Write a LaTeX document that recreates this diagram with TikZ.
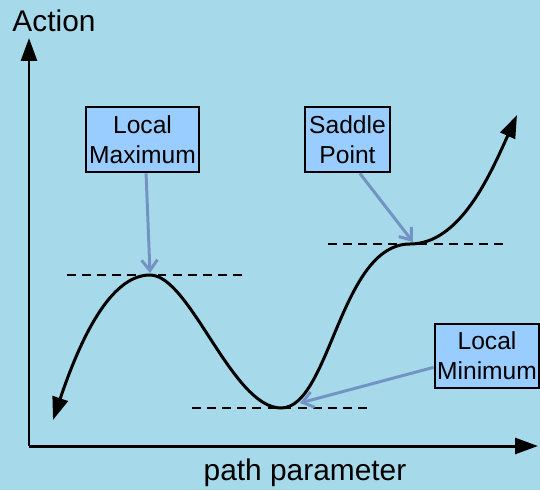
\documentclass[tikz,border=0pt]{standalone}
\usepackage{fontspec}
\setmainfont{Liberation Sans}
\usepackage{xcolor}
\usepackage{tikz}
\usetikzlibrary{arrows.meta}
\definecolor{sfondo}{HTML}{A6D9E9}
\definecolor{azzurro}{HTML}{99CCFF}
\definecolor{puntatore}{HTML}{7393C4}

\begin{document}
\begin{tikzpicture}[x=0.02cm, y=-0.02cm,
        box/.style={draw=black, line width=1.6pt, fill=azzurro, align=center,
            inner sep=0pt, font=\fontsize{14}{17}\selectfont},
        freccia/.style={draw=puntatore, line width=1.7pt,
            -{Straight Barb[length=6pt,width=9pt]}},
        tratteggio/.style={line width=1.6pt, dash pattern=on 5pt off 3.6pt},
        punta/.style={line width=1.7pt},
        curva/.style={punta, {Triangle[length=13pt,width=9pt]}-{Triangle[length=13pt,width=9pt]}}]
        \fill[sfondo] (0,0) rectangle (540,490);
        \useasboundingbox (0,0) rectangle (540,490);
        % assi
        \coordinate (o) at (29,446);
        \coordinate (ytop) at (29,38);
        \coordinate (xend) at (538,446);
        \draw[punta, -{Triangle[length=13pt,width=9pt]}] (o) -- (ytop);
        \draw[punta, -{Triangle[length=13pt,width=9pt]}] (o) -- (xend);
        \node[font=\fontsize{17}{20}\selectfont] (azione) at (54,21) {Action};
        \node[font=\fontsize{17}{20}\selectfont] (param) at (305,473) {path parameter};
        % punti della curva
        \coordinate (inizio) at (53,420);
        \coordinate (mx) at (150,275);
        \coordinate (mn) at (281,408);
        \coordinate (sella) at (410,244);
        \coordinate (fine) at (517,115);
        \draw[tratteggio] (67,275) -- (243,275);
        \draw[tratteggio] (192,408) -- (368,408);
        \draw[tratteggio] (328,244) -- (503,244);
        \draw[curva] (inizio) .. controls (80,340) and (110,275) .. (mx)
            .. controls (190,275) and (232,408) .. (mn)
            .. controls (330,408) and (340,244) .. (sella)
            .. controls (460,244) and (490,175) .. (fine);
        % etichette
        \node[box, minimum width=2.26cm, minimum height=1.3cm] (lmax) at (142.5,139.5) {Local\\Maximum};
        \node[box, minimum width=1.7cm, minimum height=1.3cm] (lsella) at (347.5,139.5) {Saddle\\Point};
        \node[box, minimum width=2.08cm, minimum height=1.28cm] (lmin) at (487,356) {Local\\Minimum};
        \draw[freccia] (lmax.-84) -- (150,273);
        \draw[freccia] (lsella.-70) -- (413,242);
        \draw[freccia] (lmin.192) -- (300,403);
\end{tikzpicture}
\end{document}
